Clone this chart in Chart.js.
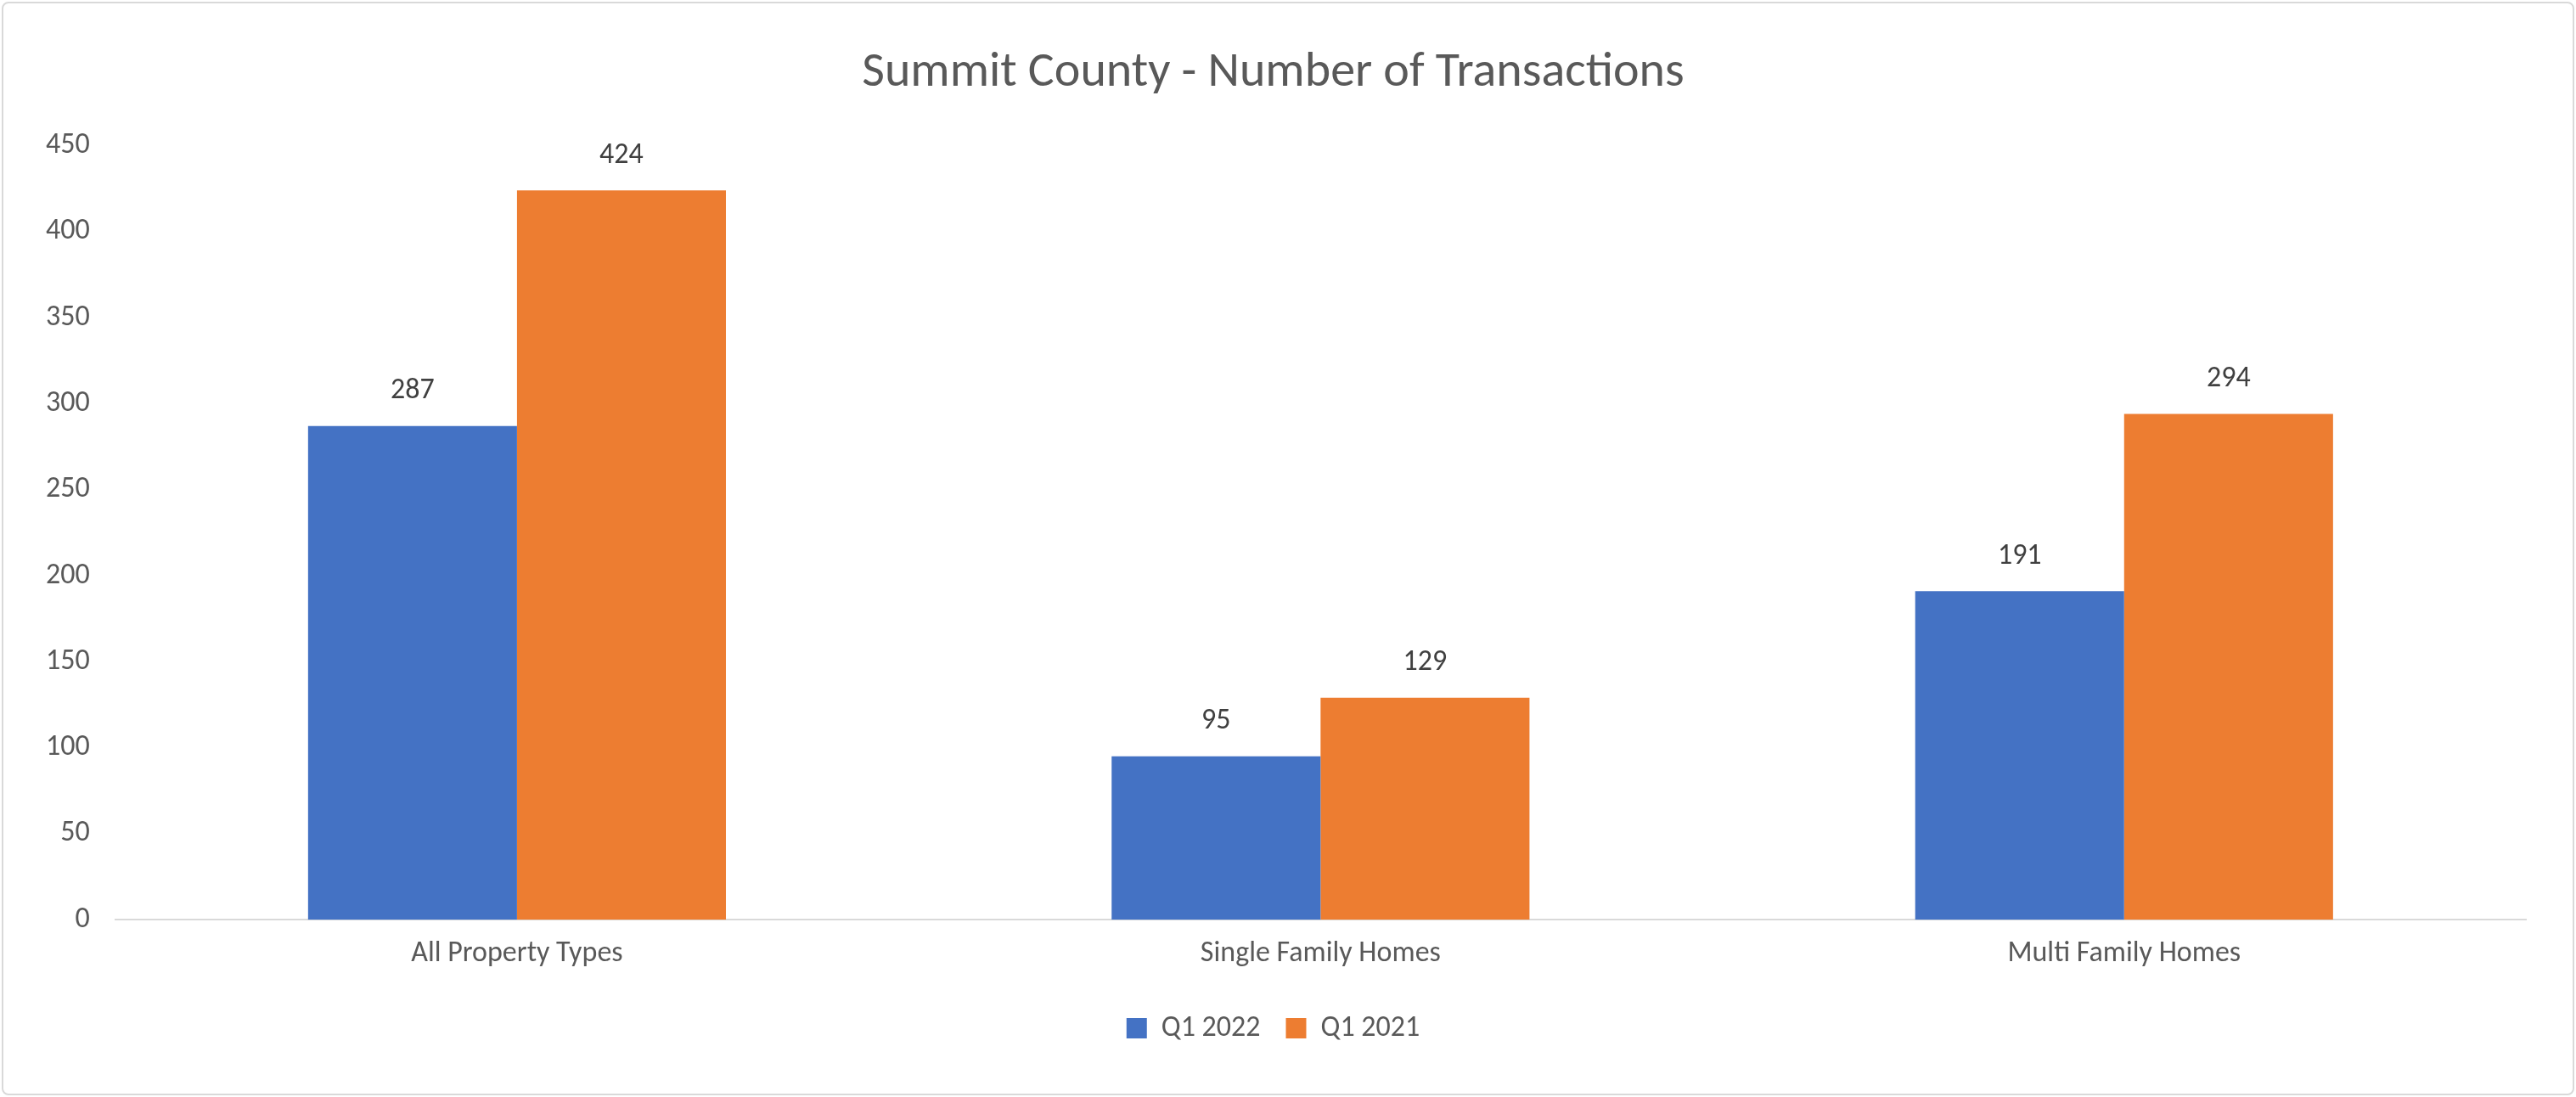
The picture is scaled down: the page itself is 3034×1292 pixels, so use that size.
<!DOCTYPE html>
<html><head><meta charset="utf-8">
<script src="https://cdn.jsdelivr.net/npm/chart.js@4/dist/chart.umd.min.js"></script>
<style>
html,body{margin:0;padding:0;background:#fff;}
#wrap{position:absolute;left:2px;top:2px;width:3026px;height:1284px;border:2px solid #d9d9d9;border-radius:8px;}
</style></head><body>
<div id="wrap"><canvas id="c" width="3026" height="1284"></canvas></div>
<script>
const categories = ["All Property Types", "Single Family Homes", "Multi Family Homes"];
const seriesNames = ["Q1 2022", "Q1 2021"];
const q1_2022 = [287, 95, 191];
const q1_2021 = [424, 129, 294];
const yTicks = [0, 50, 100, 150, 200, 250, 300, 350, 400, 450];

const FONT = "Calibri, Carlito, 'Open Sans', 'Liberation Sans', sans-serif";
const labelPlugin = {
  id: 'vals',
  afterDatasetsDraw(chart) {
    const ctx = chart.ctx;
    ctx.save();
    ctx.font = "34px " + FONT;
    ctx.fillStyle = "#404040";
    ctx.textAlign = "center";
    ctx.textBaseline = "bottom";
    chart.data.datasets.forEach((ds, i) => {
      chart.getDatasetMeta(i).data.forEach((bar, j) => {
        ctx.fillText(ds.data[j], bar.x, bar.y - 24);
      });
    });
    ctx.restore();
  }
};

new Chart(document.getElementById('c'), {
  type: 'bar',
  data: {
    labels: categories,
    datasets: [
      { label: seriesNames[0], data: q1_2022, backgroundColor: '#4472C4' },
      { label: seriesNames[1], data: q1_2021, backgroundColor: '#ED7D31' }
    ]
  },
  options: {
    responsive: false,
    animation: false,
    layout: { padding: { left: 20, right: 55, top: 28, bottom: 50 } },
    datasets: { bar: { categoryPercentage: 0.52, barPercentage: 1.0 } },
    plugins: {
      title: { display: true, text: 'Summit County - Number of Transactions', color: '#595959',
        font: { size: 58, family: FONT, weight: 'normal' }, padding: { top: 20, bottom: 50 } },
      legend: { position: 'bottom', labels: { color: '#595959', font: { size: 34, family: FONT },
        boxWidth: 24, boxHeight: 24, padding: 30 } },
      tooltip: { enabled: false }
    },
    scales: {
      x: { grid: { display: false, drawTicks: false }, border: { color: '#d9d9d9', width: 2 },
        ticks: { color: '#595959', font: { size: 34, family: FONT }, padding: 20 } },
      y: { min: 0, max: 450, afterBuildTicks: a => { a.ticks = yTicks.map(v => ({ value: v })); },
        grid: { display: false, drawTicks: false }, border: { display: false },
        ticks: { color: '#595959', font: { size: 34, family: FONT }, padding: 30 } }
    }
  },
  plugins: [labelPlugin]
});
</script></body></html>
